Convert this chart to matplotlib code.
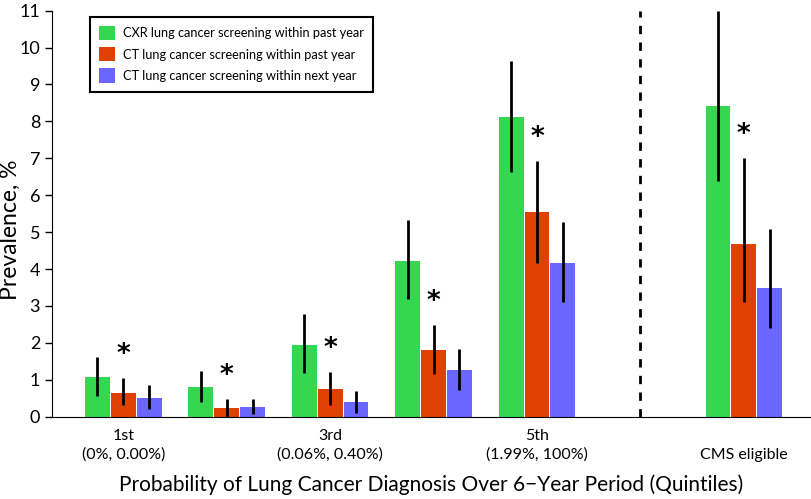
import numpy as np
import matplotlib.pyplot as plt
from matplotlib.patches import Patch

plt.rcParams['font.family'] = ['Lato', 'DejaVu Sans']

# data
groups = ['1st\n(0%, 0.00%)', '', '3rd\n(0.06%, 0.40%)', '', '5th\n(1.99%, 100%)', '\nCMS eligible']
group_x = [0, 1, 2, 3, 4, 6]
series = ['CXR lung cancer screening within past year',
          'CT lung cancer screening within past year',
          'CT lung cancer screening within next year']
colors = ['#35d650', '#e04000', '#6a66ff']

cxr_past = [1.07, 0.81, 1.95, 4.22, 8.13, 8.42]
cxr_past_lo = [0.57, 0.41, 1.18, 3.18, 6.63, 6.39]
cxr_past_hi = [1.63, 1.25, 2.78, 5.32, 9.65, 11.0]

ct_past = [0.65, 0.24, 0.74, 1.81, 5.54, 4.68]
ct_past_lo = [0.31, 0.0, 0.31, 1.15, 4.16, 3.12]
ct_past_hi = [1.04, 0.48, 1.20, 2.48, 6.94, 7.00]

ct_next = [0.51, 0.25, 0.40, 1.27, 4.16, 3.48]
ct_next_lo = [0.20, 0.06, 0.10, 0.72, 3.10, 2.39]
ct_next_hi = [0.86, 0.48, 0.70, 1.83, 5.27, 5.09]

values = [cxr_past, ct_past, ct_next]
lows = [cxr_past_lo, ct_past_lo, ct_next_lo]
highs = [cxr_past_hi, ct_past_hi, ct_next_hi]

fig = plt.figure(figsize=(8.12, 4.99), dpi=100)
ax = fig.add_axes([0.064, 0.165, 0.9335, 0.8136])

x = np.array(group_x, dtype=float)
offsets = [-0.25, 0.0, 0.25]
for vals, lo, hi, col, off in zip(values, lows, highs, colors, offsets):
    vals = np.array(vals)
    err = [vals - np.array(lo), np.array(hi) - vals]
    ax.bar(x + off, vals, width=0.24, color=col, zorder=2)
    ax.errorbar(x + off, vals, yerr=err, fmt='none', ecolor='black',
                elinewidth=2, capsize=0, zorder=3)

# significance markers above CT past-year bars
for xi, h in zip(x, ct_past_hi):
    ax.text(xi, h + 0.62, '*', ha='center', va='center', fontsize=19,
            fontweight='bold', family='DejaVu Sans')

ax.plot([5, 5], [0, 11], color='black', lw=2, dashes=(3, 3), zorder=1)

ax.set_xlim(-0.69, 6.64)
ax.set_ylim(0, 11)
ax.set_yticks(range(0, 12))
ax.tick_params(axis='y', labelsize=13, length=5, width=1)
ax.set_xticks(group_x)
ax.set_xticklabels(groups, fontsize=11.5, linespacing=1.4)
ax.tick_params(axis='x', length=0, pad=9)
ax.spines['top'].set_visible(False)
ax.spines['right'].set_visible(False)
ax.spines['left'].set_bounds(0, 11)

ax.set_ylabel('Prevalence, %', fontsize=16.5)
ax.yaxis.set_label_coords(-0.041, 0.46)
ax.set_xlabel('Probability of Lung Cancer Diagnosis Over 6\u2212Year Period (Quintiles)',
              fontsize=15, labelpad=9)

handles = [Patch(facecolor=c, edgecolor='none') for c in colors]
leg = ax.legend(handles, series, loc='upper left', bbox_to_anchor=(0.05, 0.985),
                borderaxespad=0, fontsize=9.2, fancybox=False, framealpha=1,
                edgecolor='black', handlelength=1.3, handleheight=1.35,
                labelspacing=0.55, borderpad=0.7, handletextpad=0.6)
leg.get_frame().set_linewidth(1.5)

fig.savefig('out.png', dpi=100)
